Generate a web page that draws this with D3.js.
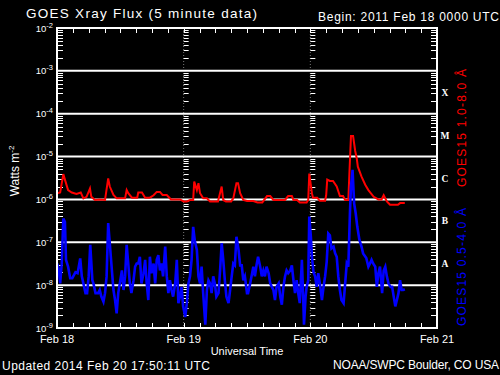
<!DOCTYPE html>
<html><head><meta charset="utf-8">
<script src="https://cdn.jsdelivr.net/npm/d3@7"></script>
<style>html,body{margin:0;padding:0;background:#000;}svg{display:block;}</style>
</head><body>
<script>
// ---------- DATA ----------
const titleText = "GOES Xray Flux (5 minute data)";
const beginText = "Begin:  2011 Feb 18 0000 UTC";
const updatedText = "Updated 2014 Feb 20 17:50:11 UTC";
const creditText = "NOAA/SWPC Boulder, CO USA";
const xAxisTitle = "Universal Time";
const dayLabels = ["Feb 18", "Feb 19", "Feb 20", "Feb 21"];
const decadeExponents = [-9, -8, -7, -6, -5, -4, -3, -2];
const flareClasses = ["X", "M", "C", "B", "A"];
const flareClassBase = [1e-4, 1e-5, 1e-6, 1e-7, 1e-8];
const longLabel = "GOES15 1.0-8.0 Å";
const shortLabel = "GOES15 0.5-4.0 Å";

// hours since 2011-02-18 00:00 UTC
const longHours = [0,0.6,1.2,1.5,2.1,2.8,3.7,4.5,5.0,5.6,6.25,6.5,7.2,8.0,9.1,9.7,10.0,10.7,11.3,12.9,13.2,13.5,14.2,15.2,15.4,16.1,16.7,17.6,18.3,18.9,19.5,20.0,20.8,21.6,23.3,24.0,24.6,25.2,25.8,26.0,26.5,26.8,27.1,27.7,28.4,29.0,30.5,31.2,31.5,32.0,33.0,33.4,34.0,34.3,34.7,35.3,36.0,37.2,38.0,38.9,39.8,40.4,41.0,43.2,43.8,44.5,44.8,45.5,46.0,47.3,47.6,47.8,48.3,48.5,49.3,49.8,50.8,51.0,51.2,51.7,52.3,53.0,53.6,54.2,54.6,55.2,55.4,55.7,56.1,56.5,56.8,57.0,57.7,58.4,59.0,60.0,60.9,61.5,61.9,62.5,63.1,64.6,65.0,65.9];
const longFlux = [1.4e-6,1.45e-6,3.9e-6,2.9e-6,1.65e-6,1.45e-6,1.34e-6,1.45e-6,1.06e-6,1.15e-6,1.8e-6,1.15e-6,0.97e-6,1.0e-6,0.97e-6,3.1e-6,2.0e-6,1.27e-6,1.06e-6,1.06e-6,1.65e-6,1.4e-6,1.1e-6,1.1e-6,1.45e-6,1.45e-6,1.1e-6,1.1e-6,1.25e-6,1.5e-6,1.5e-6,1.27e-6,1.27e-6,1.0e-6,1.0e-6,0.9e-6,0.9e-6,0.97e-6,0.97e-6,2.6e-6,1.65e-6,2.4e-6,1.4e-6,1.06e-6,1.06e-6,0.9e-6,0.9e-6,2.0e-6,0.97e-6,0.9e-6,0.9e-6,1.06e-6,2.4e-6,2.4e-6,1.4e-6,0.97e-6,0.92e-6,0.92e-6,0.85e-6,0.85e-6,1.2e-6,1.2e-6,0.97e-6,0.97e-6,1.2e-6,1.2e-6,0.97e-6,0.97e-6,0.85e-6,0.85e-6,0.97e-6,4.0e-6,1.4e-6,1.1e-6,1.1e-6,0.93e-6,0.93e-6,1.25e-6,2.9e-6,2.7e-6,2.7e-6,2.0e-6,1.2e-6,1.2e-6,0.97e-6,0.97e-6,4.0e-6,3.0e-5,3.0e-5,1.35e-5,9e-6,5.8e-6,3.4e-6,2.2e-6,1.65e-6,1.15e-6,1.0e-6,1.0e-6,1.25e-6,0.9e-6,0.75e-6,0.75e-6,0.82e-6,0.82e-6];

const shortHours = [0,0.3,0.6,0.9,1.2,1.5,1.7,2.1,2.5,2.9,3.5,3.9,4.4,4.7,5.0,5.4,5.7,6.0,6.3,6.7,6.9,7.3,7.8,8.1,8.4,8.8,9.1,9.4,9.7,10.0,10.4,10.7,11.0,11.3,11.6,11.9,12.3,12.6,12.9,13.2,13.5,13.8,14.1,14.5,14.8,15.1,15.4,15.7,16.0,16.4,16.7,17.0,17.3,17.6,17.9,18.3,18.6,18.9,19.2,19.5,19.8,20.1,20.5,20.8,21.1,21.4,21.7,22.0,22.4,22.7,23.0,23.3,23.6,23.9,24.3,24.6,24.9,25.2,25.5,25.8,26.1,26.5,26.8,27.1,27.4,27.7,28.1,28.4,28.7,29.0,29.3,29.6,29.9,30.2,30.6,30.9,31.2,31.5,31.8,32.1,32.5,32.8,33.1,33.4,33.7,34.0,34.4,34.7,35.0,35.3,35.6,36.0,36.2,36.6,37.2,37.5,37.8,38.1,38.5,38.8,39.1,39.4,39.7,40.1,40.4,40.7,41.0,41.3,41.6,42.0,42.3,42.6,42.9,43.2,43.5,43.8,44.2,44.5,44.8,45.1,45.4,45.7,46.0,46.4,46.7,46.8,47.1,47.3,47.6,47.8,48.1,48.3,48.6,48.9,49.2,49.5,49.8,50.2,50.5,50.8,51.1,51.4,51.7,52.0,52.4,52.7,53.0,53.3,53.6,53.9,54.3,54.6,54.9,55.2,55.5,55.7,56.0,56.3,56.6,56.9,57.3,57.7,58.0,58.6,59.0,59.3,59.6,59.9,60.3,60.6,60.9,61.2,61.6,61.9,62.2,62.5,62.8,63.2,63.5,63.8,64.1,64.4,64.7,65.0,65.3,65.6,65.9];
const shortFlux = [3.2e-8,2.5e-8,1.1e-8,3.2e-8,3.6e-7,3.0e-7,3.9e-8,2.7e-8,1.45e-8,1.45e-8,2.0e-8,1.9e-8,4.2e-8,1.6e-8,1.1e-8,6.5e-9,6.5e-9,1.6e-8,8.7e-8,1.3e-8,1.1e-8,6.5e-9,6.5e-9,7.7e-9,5.4e-9,4.1e-9,6.5e-9,1.6e-8,2.8e-7,9.5e-8,2.2e-8,7.7e-9,4.5e-9,2.2e-9,6.5e-9,1.1e-8,2.2e-8,7.7e-9,1.6e-8,8.7e-8,3.2e-8,1.1e-8,6.5e-9,1.3e-8,2.7e-8,3.2e-8,3.2e-8,4.6e-8,1.1e-8,1.9e-8,3.9e-8,1.1e-8,4.5e-9,4.6e-8,1.9e-8,3.2e-8,1.1e-8,3.9e-8,5.0e-8,2.2e-8,3.2e-8,1.6e-8,7.9e-8,1.6e-8,6.5e-9,1.3e-8,7.7e-9,5.4e-9,1.1e-8,3.9e-8,3.8e-9,5.4e-9,9.1e-9,3.2e-9,1.8e-9,3.8e-9,1.1e-8,1.6e-8,3.9e-8,2.3e-7,1.1e-7,6.6e-8,1.6e-8,1.1e-8,2.7e-8,6.5e-9,1.2e-9,7.7e-9,1.3e-8,1.1e-8,6.5e-9,1.6e-8,1.1e-8,5.4e-9,6.5e-9,2.2e-8,9.5e-8,3.9e-8,1.3e-8,5.4e-9,3.8e-9,7.7e-9,1.6e-8,3.2e-8,2.9e-8,1.35e-7,6.6e-8,2.9e-8,2.9e-8,1.3e-8,1.6e-8,6.5e-9,6.5e-9,1.1e-8,2.7e-8,1.6e-8,2.9e-8,4.6e-8,2.7e-8,1.6e-8,2.2e-8,1.6e-8,2.7e-8,1.9e-8,1.1e-8,9.1e-9,7.7e-9,4.5e-9,9.1e-9,1.1e-8,5.4e-9,3.5e-9,9.1e-9,1.6e-8,2.2e-8,1.9e-8,2.2e-8,2.9e-8,1.3e-8,6.5e-9,1.3e-8,6.5e-9,3.8e-9,3.9e-8,3.2e-9,1.2e-9,5.4e-9,9.1e-9,1.3e-8,4.0e-7,1.35e-7,4.6e-8,2.0e-8,1.6e-8,9.1e-9,1.9e-8,1.1e-8,4.5e-9,9.1e-9,1.6e-8,3.5e-8,1.6e-7,1.45e-7,7.2e-8,7.9e-8,5.5e-8,4.6e-8,1.6e-8,7.7e-9,4.5e-9,3.8e-9,1.1e-8,3.2e-8,2.7e-8,4.7e-7,2.0e-6,4.9e-6,8.1e-7,4.7e-7,2.3e-7,1.13e-7,7.9e-8,5.5e-8,4.3e-8,2.7e-8,3.2e-8,3.9e-8,3.2e-8,2.7e-8,9.1e-9,1.9e-8,2.7e-8,6.5e-9,2.2e-8,2.7e-8,1.6e-8,1.1e-8,9.1e-9,9.1e-9,5.4e-9,3.2e-9,4.5e-9,6.5e-9,1.3e-8,7.7e-9,7.7e-9,8e-9];

// ---------- CHART ----------
const W = 500, H = 375;
const X0 = 57, X1 = 437, Y0 = 28, Y1 = 328;
const startMs = Date.UTC(2011, 1, 18);
const toDate = h => new Date(startMs + h * 3600e3);

const svg = d3.select("body").append("svg").attr("width", W).attr("height", H)
  .style("background", "#000");
svg.append("rect").attr("width", W).attr("height", H).attr("fill", "#000");

const x = d3.scaleUtc().domain([new Date(startMs), new Date(startMs + 3 * 864e5)]).range([X0, X1]);
const y = d3.scaleLog().domain([1e-9, 1e-2]).range([Y1, Y0]);

const font = "'Liberation Sans', 'DejaVu Sans', sans-serif";

// minor log ticks
const minorTicks = [];
for (let e = -9; e <= -3; e++) for (let m = 2; m <= 9; m++) minorTicks.push(m * Math.pow(10, e));

const dayDates = d3.utcDay.range(new Date(startMs), new Date(startMs + 3 * 864e5 + 1));
const innerDays = dayDates.slice(1, 3);

// day divider lines (faint)
svg.append("g").selectAll("line").data(innerDays).join("line")
  .attr("x1", d => x(d)).attr("x2", d => x(d)).attr("y1", Y0).attr("y2", Y1)
  .attr("stroke", "#777").attr("stroke-width", 1).attr("stroke-dasharray", "1,2");

// minor ticks on left/right/dividers
const tickG = svg.append("g").attr("stroke", "#fff").attr("stroke-width", 1);
tickG.selectAll(".ml").data(minorTicks).join("line")
  .attr("x1", X0).attr("x2", X0 + 6).attr("y1", d => Math.round(y(d)) + 0.5).attr("y2", d => Math.round(y(d)) + 0.5);
tickG.selectAll(".mr").data(minorTicks).join("line")
  .attr("x1", X1 - 6).attr("x2", X1).attr("y1", d => Math.round(y(d)) + 0.5).attr("y2", d => Math.round(y(d)) + 0.5);
innerDays.forEach(dd => {
  tickG.append("g").selectAll("line").data(minorTicks).join("line")
    .attr("x1", x(dd)).attr("x2", x(dd) + 5)
    .attr("y1", d => Math.round(y(d)) + 0.5).attr("y2", d => Math.round(y(d)) + 0.5);
});

// x ticks every 3 hours, inward top & bottom
const hourTicks = d3.utcHour.every(3).range(new Date(startMs + 1), new Date(startMs + 3 * 864e5));
tickG.selectAll(".xb").data(hourTicks).join("line")
  .attr("x1", d => Math.round(x(d)) + 0.5).attr("x2", d => Math.round(x(d)) + 0.5)
  .attr("y1", Y1).attr("y2", Y1 - 5);
tickG.selectAll(".xt").data(hourTicks).join("line")
  .attr("x1", d => Math.round(x(d)) + 0.5).attr("x2", d => Math.round(x(d)) + 0.5)
  .attr("y1", Y0).attr("y2", Y0 + 5);

// gridlines at decades
const gridVals = decadeExponents.slice(1, -1).map(e => Math.pow(10, e));
svg.append("g").selectAll("line").data(gridVals).join("line")
  .attr("x1", X0).attr("x2", X1).attr("y1", d => y(d)).attr("y2", d => y(d))
  .attr("stroke", "#fff").attr("stroke-width", 2);

// data lines
svg.append("clipPath").attr("id", "clip").append("rect")
  .attr("x", X0).attr("y", Y0).attr("width", X1 - X0).attr("height", Y1 - Y0);
const line = d3.line().x(d => x(toDate(d[0]))).y(d => y(d[1]));
const longData = longHours.map((h, i) => [h, longFlux[i]]);
const shortData = shortHours.map((h, i) => [h, shortFlux[i]]);
const dataG = svg.append("g").attr("clip-path", "url(#clip)");
dataG.append("path").datum(longData).attr("d", line)
  .attr("fill", "none").attr("stroke", "#ff0000").attr("stroke-width", 2).attr("stroke-linejoin", "miter");
dataG.append("path").datum(shortData).attr("d", line)
  .attr("fill", "none").attr("stroke", "#0000ff").attr("stroke-width", 2.6).attr("stroke-linejoin", "miter");

// frame
svg.append("rect").attr("x", X0).attr("y", Y0).attr("width", X1 - X0).attr("height", Y1 - Y0)
  .attr("fill", "none").attr("stroke", "#fff").attr("stroke-width", 2);

// y tick labels
const yl = svg.append("g").attr("fill", "#fff").attr("font-family", font);
decadeExponents.forEach(e => {
  const t = yl.append("text").attr("x", 53).attr("y", y(Math.pow(10, e)) + 3.5)
    .attr("text-anchor", "end").attr("font-size", 9.5);
  t.append("tspan").text("10");
  t.append("tspan").attr("dy", -4).attr("font-size", 7.5).text("-" + Math.abs(e));
});

// y axis title
svg.append("text").attr("transform", "translate(19,171) rotate(-90)")
  .attr("text-anchor", "middle").attr("fill", "#fff").attr("font-family", font).attr("font-size", 12)
  .call(t => { t.append("tspan").text("Watts m"); t.append("tspan").attr("dy", -5).attr("font-size", 8).text("-2"); });

// flare class letters
svg.append("g").selectAll("text").data(flareClasses).join("text")
  .attr("x", 445).attr("y", (d, i) => y(Math.sqrt(flareClassBase[i] * flareClassBase[i] * 10)) + 3.5)
  .attr("text-anchor", "middle").attr("fill", "#fff")
  .attr("font-family", "'Liberation Serif', serif").attr("font-weight", "bold").attr("font-size", 9.5)
  .text(d => d);

// satellite labels
svg.append("text").attr("transform", "translate(466,128) rotate(-90)")
  .attr("text-anchor", "middle").attr("fill", "#ff0000").attr("font-family", font).attr("font-size", 12)
  .attr("textLength", 118).text(longLabel);
svg.append("text").attr("transform", "translate(466,267) rotate(-90)")
  .attr("text-anchor", "middle").attr("fill", "#0000ff").attr("font-family", font).attr("font-size", 12)
  .attr("textLength", 118).text(shortLabel);

// x labels
svg.append("g").selectAll("text").data(dayDates).join("text")
  .attr("x", d => x(d)).attr("y", 343).attr("text-anchor", "middle")
  .attr("fill", "#fff").attr("font-family", font).attr("font-size", 11)
  .text((d, i) => dayLabels[i]);
svg.append("text").attr("x", 247).attr("y", 355).attr("text-anchor", "middle")
  .attr("fill", "#fff").attr("font-family", font).attr("font-size", 11).text(xAxisTitle);

// titles
svg.append("text").attr("x", 26).attr("y", 18).attr("fill", "#fff").attr("font-family", font)
  .attr("font-size", 13.5).attr("textLength", 231).text(titleText);
svg.append("text").attr("x", 318).attr("y", 21).attr("fill", "#fff").attr("font-family", font)
  .attr("font-size", 12).attr("textLength", 181).text(beginText);
svg.append("text").attr("x", 2).attr("y", 370).attr("fill", "#fff").attr("font-family", font)
  .attr("font-size", 12).attr("textLength", 208).text(updatedText);
svg.append("text").attr("x", 333).attr("y", 369).attr("fill", "#fff").attr("font-family", font)
  .attr("font-size", 12).attr("textLength", 166).text(creditText);
</script>
</body></html>
